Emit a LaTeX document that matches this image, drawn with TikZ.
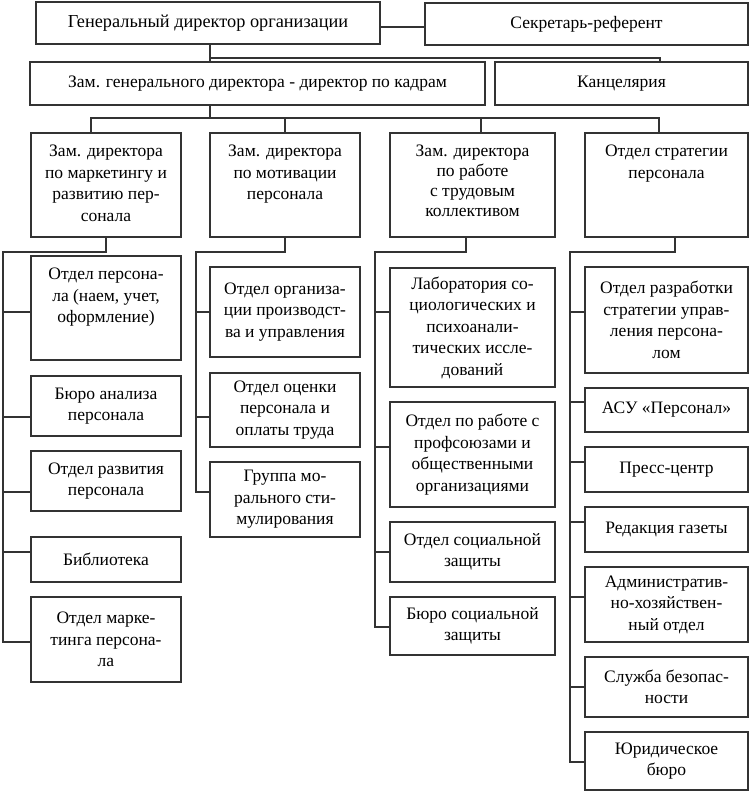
\documentclass[tikz,border=0pt]{standalone}
\usepackage{fontspec}
\setmainfont{Liberation Serif}
\newcommand\tbox[3]{\parbox[c][#1][t]{#2}{\centering\vspace*{12pt}#3}}
\begin{document}
\begin{tikzpicture}[x=1pt,y=-1pt,
  box/.style={draw=black!80, line width=1.3pt, fill=white, inner sep=0pt, align=center,
    font=\fontsize{17.5}{21.5}\selectfont},
  conn/.style={draw=black!80, line width=1.3pt}]
\useasboundingbox (0,0) rectangle (751,793);
% top rows
\node[box, minimum width=344pt, minimum height=42pt, font=\fontsize{18.3}{22}\selectfont] (gen) at (208,23) {Генеральный директор организации};
\node[box, minimum width=323pt, minimum height=42pt] (sec) at (586.5,24) {Секретарь-референт};
\node[box, minimum width=455pt, minimum height=43pt] (zam) at (257.5,83.5) {Зам. генерального директора - директор по кадрам};
\node[box, minimum width=253pt, minimum height=43pt] (kan) at (621.5,83.5) {Канцелярия};
% column heads
\node[box, minimum width=150pt, minimum height=104pt] (c1) at (106,185) {\tbox{104pt}{150pt}{Зам. директора\\по маркетингу и\\развитию пер-\\сонала}};
\node[box, minimum width=150pt, minimum height=104pt] (c2) at (285,185) {\tbox{104pt}{150pt}{Зам. директора\\по мотивации\\персонала}};
\node[box, minimum width=165pt, minimum height=104pt] (c3) at (472.5,185) {\tbox{104pt}{165pt}{\baselineskip=20pt Зам. директора\\по работе\\с трудовым\\коллективом}};
\node[box, minimum width=163pt, minimum height=104pt] (c4) at (666.5,185) {\tbox{104pt}{163pt}{Отдел стратегии\\персонала}};
% column 1
\node[box, minimum width=150pt, minimum height=104pt] (c1a) at (106,308) {\tbox{104pt}{150pt}{Отдел персона-\\ла (наем, учет,\\оформление)}};
\node[box, minimum width=150pt, minimum height=60pt] (c1b) at (106,406) {Бюро анализа\\персонала};
\node[box, minimum width=150pt, minimum height=60pt] (c1c) at (106,481) {Отдел развития\\персонала};
\node[box, minimum width=150pt, minimum height=45pt] (c1d) at (106,559.5) {Библиотека};
\node[box, minimum width=150pt, minimum height=85pt] (c1e) at (106,639.5) {Отдел марке-\\тинга персона-\\ла};
% column 2
\node[box, minimum width=150pt, minimum height=90pt] (c2a) at (285,312) {Отдел организа-\\ции производст-\\ва и управления};
\node[box, minimum width=150pt, minimum height=74pt] (c2b) at (285,410) {Отдел оценки\\персонала и\\оплаты труда};
\node[box, minimum width=150pt, minimum height=75pt] (c2c) at (285,499.5) {Группа мо-\\рального сти-\\мулирования};
% column 3
\node[box, minimum width=165pt, minimum height=119pt] (c3a) at (472.5,327.5) {Лаборатория со-\\циологических и\\психоанали-\\тических иссле-\\дований};
\node[box, minimum width=165pt, minimum height=105pt] (c3b) at (472.5,454.5) {Отдел по работе с\\профсоюзами и\\общественными\\организациями};
\node[box, minimum width=165pt, minimum height=60pt] (c3c) at (472.5,552) {Отдел социальной\\защиты};
\node[box, minimum width=165pt, minimum height=58pt] (c3d) at (472.5,626) {Бюро социальной\\защиты};
% column 4
\node[box, minimum width=163pt, minimum height=106pt] (c4a) at (666.5,320) {Отдел разработки\\стратегии управ-\\ления персона-\\лом};
\node[box, minimum width=163pt, minimum height=44pt] (c4b) at (666.5,410) {АСУ «Персонал»};
\node[box, minimum width=163pt, minimum height=45pt] (c4c) at (666.5,469.5) {Пресс-центр};
\node[box, minimum width=163pt, minimum height=45pt] (c4d) at (666.5,529.5) {Редакция газеты};
\node[box, minimum width=163pt, minimum height=75pt] (c4e) at (666.5,604.5) {Административ-\\но-хозяйствен-\\ный отдел};
\node[box, minimum width=163pt, minimum height=60pt] (c4f) at (666.5,687) {Служба безопас-\\ности};
\node[box, minimum width=163pt, minimum height=58pt] (c4g) at (666.5,761) {Юридическое\\бюро};
% connectors top
\draw[conn] (gen.east |- 0,27) -- (sec.west |- 0,27);
\coordinate (j1) at (210,58);
\coordinate (k1) at (660,58);
\draw[conn] (gen.south -| j1) -- (zam.north -| j1);
\draw[conn] (j1) -- (k1) -- (kan.north -| k1);
\coordinate (j2) at (210,118);
\coordinate (bl) at (91,118);
\coordinate (br) at (659,118);
\coordinate (b3) at (481,118);
\draw[conn] (zam.south -| j2) -- (j2);
\draw[conn] (c1.north -| bl) -- (bl) -- (br) -- (c4.north -| br);
\draw[conn] (c2.north) -- (c2.north |- bl);
\draw[conn] (c3.north -| b3) -- (b3);
% column 1 spine
\coordinate (s1) at (3,252);
\draw[conn] (c1.south) -- (c1.south |- s1) -- (s1) -- (3,642) -- (c1e.west |- 0,642);
\draw[conn] (3,312) -- (c1a.west |- 0,312);
\draw[conn] (3,417) -- (c1b.west |- 0,417);
\draw[conn] (3,492) -- (c1c.west |- 0,492);
\draw[conn] (3,552) -- (c1d.west |- 0,552);
% column 2 spine
\coordinate (s2) at (196,252);
\draw[conn] (c2.south) -- (c2.south |- s2) -- (s2) -- (196,492) -- (c2c.west |- 0,492);
\draw[conn] (196,312) -- (c2a.west |- 0,312);
\draw[conn] (196,417) -- (c2b.west |- 0,417);
% column 3 spine
\coordinate (t3) at (466,252);
\coordinate (s3) at (375,252);
\draw[conn] (c3.south -| t3) -- (t3) -- (s3) -- (375,627) -- (c3d.west |- 0,627);
\draw[conn] (375,312) -- (c3a.west |- 0,312);
\draw[conn] (375,447) -- (c3b.west |- 0,447);
\draw[conn] (375,552) -- (c3c.west |- 0,552);
% column 4 spine
\coordinate (t4) at (675,252);
\coordinate (s4) at (570,252);
\draw[conn] (c4.south -| t4) -- (t4) -- (s4) -- (570,762) -- (c4g.west |- 0,762);
\draw[conn] (570,312) -- (c4a.west |- 0,312);
\draw[conn] (570,402) -- (c4b.west |- 0,402);
\draw[conn] (570,462) -- (c4c.west |- 0,462);
\draw[conn] (570,522) -- (c4d.west |- 0,522);
\draw[conn] (570,597) -- (c4e.west |- 0,597);
\draw[conn] (570,687) -- (c4f.west |- 0,687);
\end{tikzpicture}
\end{document}
